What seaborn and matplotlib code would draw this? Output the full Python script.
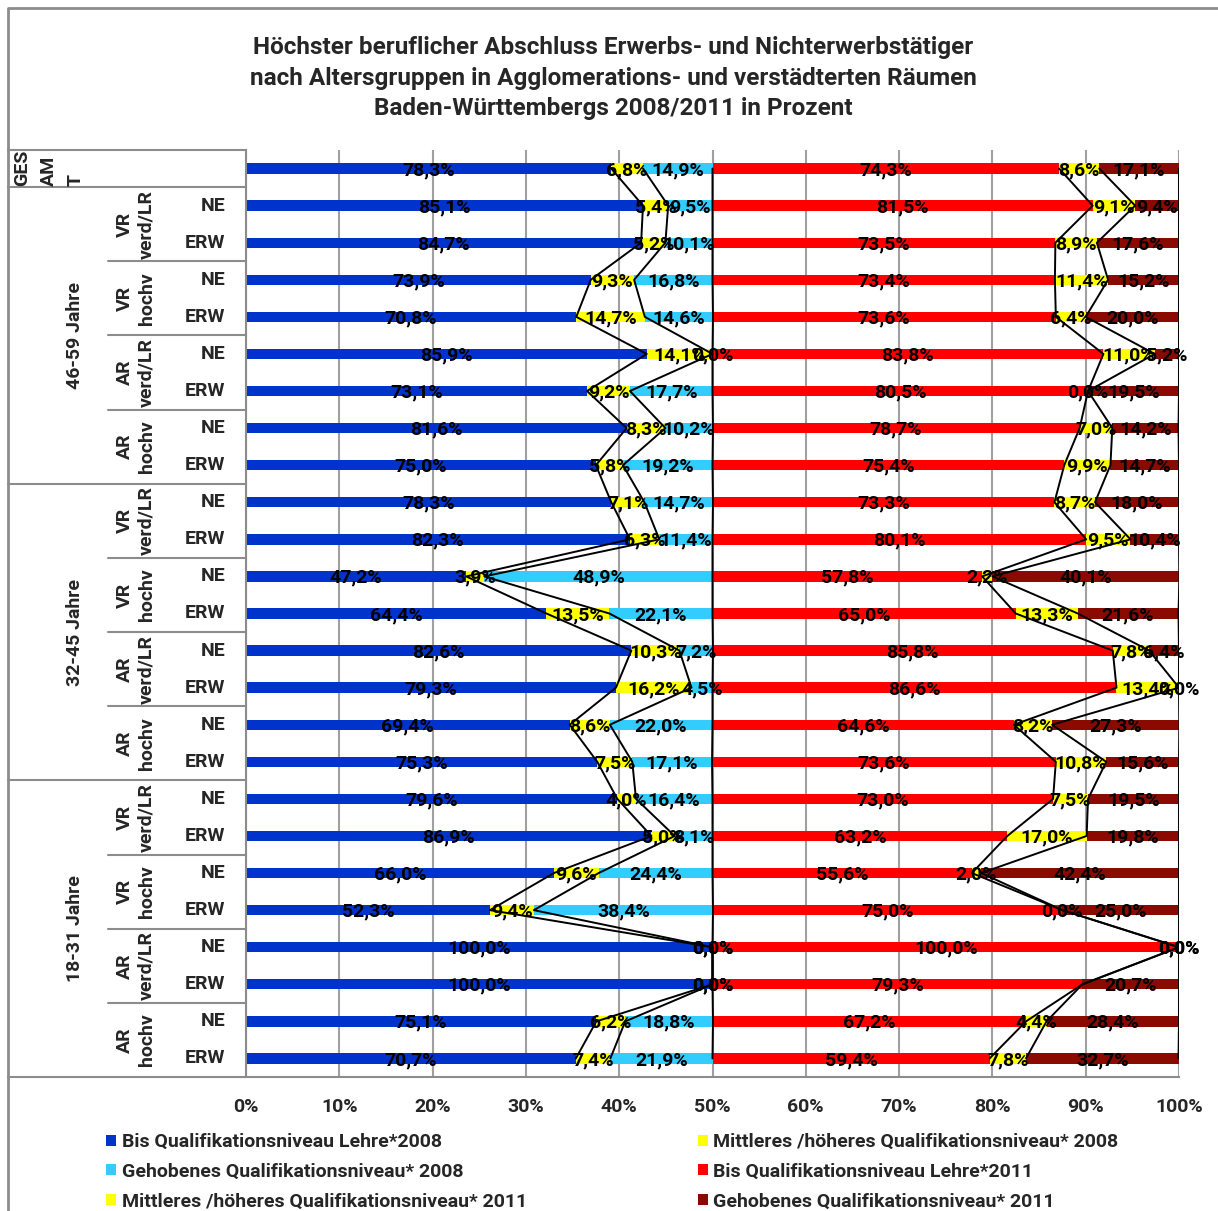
import numpy as np
import pandas as pd
import matplotlib
matplotlib.use("Agg")
import matplotlib.pyplot as plt
import seaborn as sns
from matplotlib.patches import Patch

# ---------------- data ----------------
age_groups = ["46-59 Jahre", "32-45 Jahre", "18-31 Jahre"]
regions = ["VR\nverd/LR", "VR\nhochv", "AR\nverd/LR", "AR\nhochv"]
statuses = ["NE", "ERW"]
total_label = "GES\nAM\nT"

lehre_2008 = [78.3,
              85.1, 84.7, 73.9, 70.8, 85.9, 73.1, 81.6, 75.0,
              78.3, 82.3, 47.2, 64.4, 82.6, 79.3, 69.4, 75.3,
              79.6, 86.9, 66.0, 52.3, 100.0, 100.0, 75.1, 70.7]
mittel_2008 = [6.8,
               5.4, 5.2, 9.3, 14.7, 14.1, 9.2, 8.3, 5.8,
               7.1, 6.3, 3.9, 13.5, 10.3, 16.2, 8.6, 7.5,
               4.0, 5.0, 9.6, 9.4, 0.0, 0.0, 6.2, 7.4]
gehoben_2008 = [14.9,
                9.5, 10.1, 16.8, 14.6, 0.0, 17.7, 10.2, 19.2,
                14.7, 11.4, 48.9, 22.1, 7.2, 4.5, 22.0, 17.1,
                16.4, 8.1, 24.4, 38.4, 0.0, 0.0, 18.8, 21.9]
lehre_2011 = [74.3,
              81.5, 73.5, 73.4, 73.6, 83.8, 80.5, 78.7, 75.4,
              73.3, 80.1, 57.8, 65.0, 85.8, 86.6, 64.6, 73.6,
              73.0, 63.2, 55.6, 75.0, 100.0, 79.3, 67.2, 59.4]
mittel_2011 = [8.6,
               9.1, 8.9, 11.4, 6.4, 11.0, 0.0, 7.0, 9.9,
               8.7, 9.5, 2.2, 13.3, 7.8, 13.4, 8.2, 10.8,
               7.5, 17.0, 2.0, 0.0, 0.0, np.nan, 4.4, 7.8]
gehoben_2011 = [17.1,
                9.4, 17.6, 15.2, 20.0, 5.2, 19.5, 14.2, 14.7,
                18.0, 10.4, 40.1, 21.6, 6.4, 0.0, 27.3, 15.6,
                19.5, 19.8, 42.4, 25.0, 0.0, 20.7, 28.4, 32.7]

series_names = ["Bis Qualifikationsniveau Lehre*2008",
                "Mittleres /höheres Qualifikationsniveau* 2008",
                "Gehobenes Qualifikationsniveau* 2008",
                "Bis Qualifikationsniveau Lehre*2011",
                "Mittleres /höheres Qualifikationsniveau* 2011",
                "Gehobenes Qualifikationsniveau* 2011"]
series_colors = ["#0033CC", "#FFFF00", "#33CCFF", "#FF0000", "#FFFF00", "#8B0A00"]

title = ("Höchster beruflicher Abschluss Erwerbs- und Nichterwerbstätiger\n"
         "nach Altersgruppen in Agglomerations- und verstädterten Räumen\n"
         "Baden-Württembergs 2008/2011 in Prozent")

# ---------------- style ----------------
sns.set_style("white")
plt.rcParams["font.family"] = ["Roboto", "DejaVu Sans"]
plt.rcParams["font.weight"] = "bold"

W, H = 1218, 1211
fig = plt.figure(figsize=(W / 100, H / 100), dpi=100)

ax_left, ax_right = 246 / W, 1179 / W
ax_top, ax_bot = 1 - 150 / H, 1 - 1077 / H
ax = fig.add_axes([ax_left, ax_bot, ax_right - ax_left, ax_top - ax_bot])

n = len(lehre_2008)
row_ids = [f"r{i}" for i in range(n)]
vals = [np.array(v, dtype=float) for v in
        (lehre_2008, mittel_2008, gehoben_2008, lehre_2011, mittel_2011, gehoben_2011)]
filled = [np.nan_to_num(v) for v in vals]

# cumulative ends, 2008 mapped to 0-50, 2011 to 50-100
ends = []
starts = []
for block, off in ((0, 0.0), (3, 50.0)):
    c = np.zeros(n)
    for k in range(3):
        starts.append(off + c / 2)
        c = c + filled[block + k]
        ends.append(off + c / 2)

df = pd.DataFrame({"row": row_ids})
for k in range(6):
    df[f"end{k}"] = ends[k]

bar_w = 0.28
for k in [5, 4, 3, 2, 1, 0]:
    sns.barplot(data=df, x=f"end{k}", y="row", order=row_ids, orient="h",
                color=series_colors[k], saturation=1, width=bar_w,
                errorbar=None, linewidth=0, ax=ax, zorder=2)

ypos = np.arange(n)
for k in range(6):
    ax.plot(ends[k], ypos, color="black", lw=1.4, zorder=3)

lab_fs = 14
for k in range(6):
    for i in range(n):
        v = vals[k][i]
        if np.isnan(v):
            continue
        xc = (starts[k][i] + ends[k][i]) / 2
        ax.text(xc, i + 0.04, f"{v:.1f}".replace(".", ",") + "%", ha="center", va="center",
                fontsize=lab_fs, fontweight="bold", color="black", zorder=4)

ax.set_xlim(0, 100)
ax.set_ylim(n - 0.5, -0.5)
ax.set_xlabel("")
ax.set_ylabel("")
ax.set_yticks([])
ax.set_xticks(range(0, 101, 10))
ax.set_xticklabels([f"{t}%" for t in range(0, 101, 10)], fontsize=14, fontweight="bold")
ax.tick_params(axis="x", direction="out", length=7, width=1.3, color="#8c8c8c", pad=8)
ax.xaxis.grid(True, color="#a0a0a0", lw=1.5)
ax.yaxis.grid(False)
ax.set_axisbelow(True)
for s in ["top", "right"]:
    ax.spines[s].set_visible(False)
for s in ["left", "bottom"]:
    ax.spines[s].set_color("#8c8c8c")
    ax.spines[s].set_linewidth(1.5)
ax.set_facecolor("none")

# ---------------- category table ----------------
ax_t = fig.add_axes([0, ax_bot, 1, ax_top - ax_bot], zorder=-1)
ax_t.set_xlim(0, W)
ax_t.set_ylim(n - 0.5, -0.5)
ax_t.axis("off")
gc = "#8c8c8c"
for yb in [-0.5, 0.5, 8.5, 16.5, 24.5]:
    ax_t.plot([8, 246], [yb, yb], color=gc, lw=1.5, clip_on=False)
for g in range(3):
    for k in range(1, 4):
        yb = 0.5 + 8 * g + 2 * k
        ax_t.plot([108, 246], [yb, yb], color=gc, lw=1.5, clip_on=False)

tab_fs = 14
ax_t.text(49, -0.02, total_label, rotation=90, ha="center", va="center",
          multialignment="left", fontsize=tab_fs, fontweight="bold", linespacing=1.65)
for g, age in enumerate(age_groups):
    ax_t.text(75, 4.5 + 8 * g, age, rotation=90, ha="center", va="center",
              fontsize=tab_fs, fontweight="bold")
    for k, reg in enumerate(regions):
        ax_t.text(136, 1.5 + 8 * g + 2 * k, reg, rotation=90, ha="center", va="center",
                  multialignment="center", fontsize=tab_fs, fontweight="bold", linespacing=1.25)
        for s, st in enumerate(statuses):
            ax_t.text(225, 1 + 8 * g + 2 * k + s, st, ha="right", va="center",
                      fontsize=tab_fs, fontweight="bold")

# ---------------- border & title ----------------
ax_b = fig.add_axes([0, 0, 1, 1], zorder=-2)
ax_b.set_xlim(0, W)
ax_b.set_ylim(H, 0)
ax_b.axis("off")
ax_b.plot([8, 8, W + 5], [H + 5, 8, 8], color="#8c8c8c", lw=2, clip_on=False)
ax_b.text(613, 78, title, ha="center", va="center", fontsize=17.5, fontweight="bold",
          linespacing=1.41)

# ---------------- legend ----------------
handles = [Patch(facecolor=c, edgecolor="none") for c in series_colors]
order = [0, 2, 4, 1, 3, 5]
fig.legend([handles[i] for i in order], [series_names[i] for i in order],
           ncol=2, loc="upper left", bbox_to_anchor=(106 / W, 1 - 1133 / H),
           frameon=False, prop={"size": 14, "weight": "bold"},
           handlelength=0.5, handleheight=0.5, handletextpad=0.3,
           columnspacing=8.8, labelspacing=0.6, borderpad=0, borderaxespad=0)

fig.savefig("out.png", dpi=100)
